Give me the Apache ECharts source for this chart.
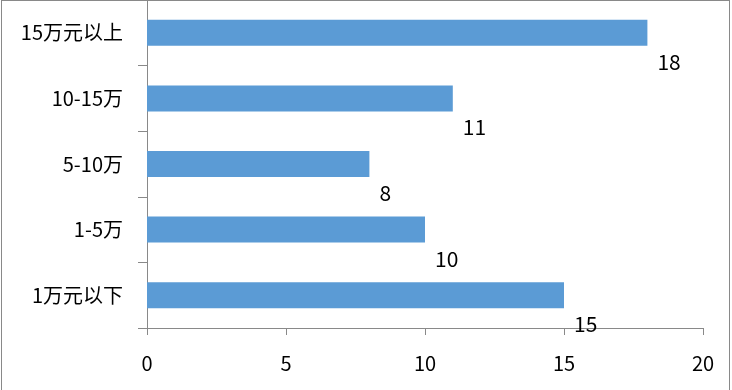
<!DOCTYPE html>
<html>
<head>
<meta charset="utf-8">
<script src="https://cdn.jsdelivr.net/npm/echarts@6/dist/echarts.min.js"></script>
<style>
html,body{margin:0;padding:0;background:#fff;}
#frame{position:absolute;left:1px;top:0;width:729px;height:400px;border:1px solid #898989;box-sizing:border-box;}
#chart{position:absolute;left:0;top:0;width:732px;height:390px;}
</style>
</head>
<body>
<div id="frame"></div>
<div id="chart"></div>
<script>
const categories = ['1万元以下', '1-5万', '5-10万', '10-15万', '15万元以上'];
const values = [15, 10, 8, 11, 18];
const xTicks = { min: 0, max: 20, interval: 5 };

const FONT = '"Noto Sans CJK SC", "Noto Sans", sans-serif';
const chart = echarts.init(document.getElementById('chart'), null, { renderer: 'canvas' });
chart.setOption({
  animation: false,
  backgroundColor: 'transparent',
  grid: { left: 147, right: 29, top: 0, bottom: 62, containLabel: false, outerBoundsMode: 'none' },
  xAxis: {
    type: 'value',
    min: xTicks.min, max: xTicks.max, interval: xTicks.interval,
    splitLine: { show: false },
    axisLine: { show: true, lineStyle: { color: '#898989', width: 1 } },
    axisTick: { show: true, length: 7, lineStyle: { color: '#898989' } },
    axisLabel: { color: '#000', fontSize: 20, fontFamily: FONT, margin: 25 }
  },
  yAxis: {
    type: 'category',
    data: categories,
    axisLine: { show: true, lineStyle: { color: '#898989', width: 1 } },
    axisTick: { show: true, length: 9, lineStyle: { color: '#898989' } },
    axisLabel: { color: '#000', fontSize: 20, fontFamily: FONT, margin: 24 },
    splitLine: { show: false }
  },
  series: [{
    type: 'bar',
    data: values,
    barWidth: 26,
    itemStyle: { color: '#5B9BD5' },
    label: {
      show: true,
      position: 'right',
      distance: 8,
      offset: [2, 29],
      color: '#000',
      fontSize: 21,
      fontFamily: FONT
    }
  }]
});
</script>
</body>
</html>
